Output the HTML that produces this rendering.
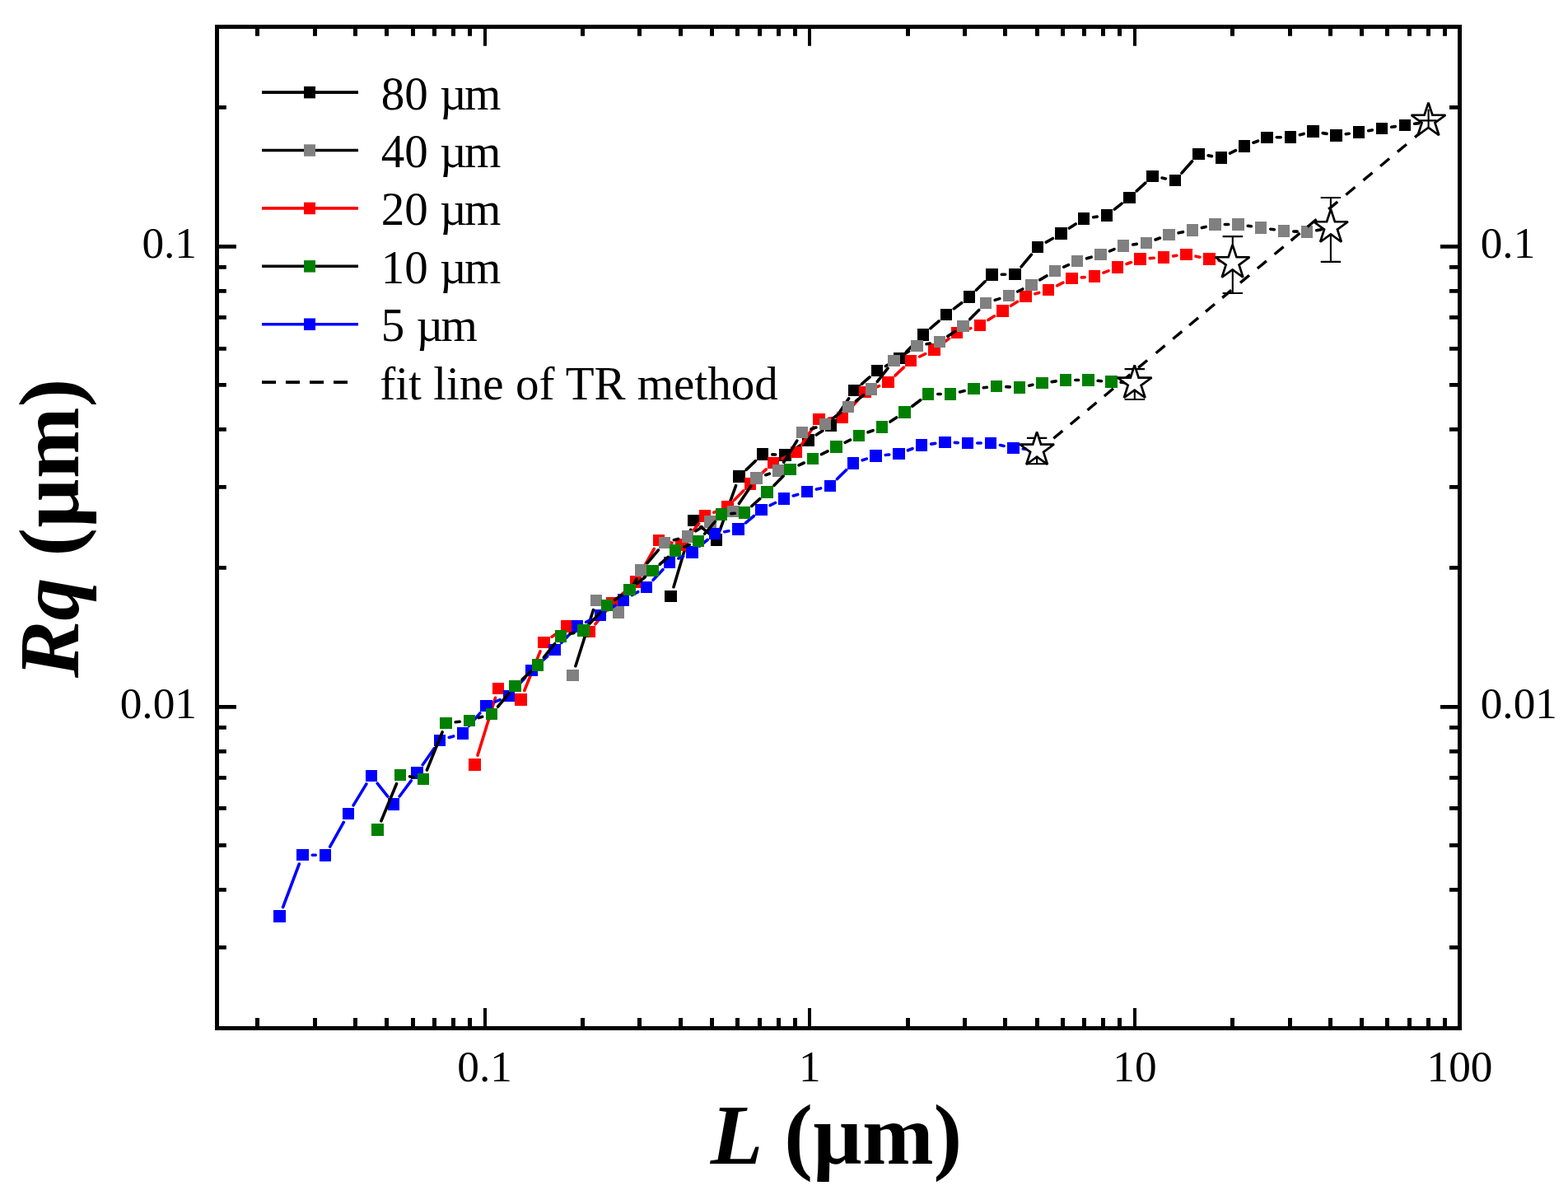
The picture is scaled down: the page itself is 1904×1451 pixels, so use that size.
<!DOCTYPE html><html><head><meta charset="utf-8"><title>Rq vs L</title><style>html,body{margin:0;padding:0;background:#fff;}svg{display:block;}text{font-family:'Liberation Serif','Times New Roman',serif;}</style></head><body>
<svg width="1904" height="1451" viewBox="0 0 1904 1451">
<rect width="1904" height="1451" fill="#fff"/>
<path d="M818.0 712.7L838.6 643.3M851.0 639.6L861.0 647.9M874.0 644.4L893.6 589.6M906.2 570.4L917.4 559.6M937.8 551.9L941.7 552.0M963.4 546.0L971.5 540.9M991.3 528.0L998.9 523.0M1015.4 506.7L1030.7 483.8M1046.3 466.3L1056.0 457.9M1075.4 444.5L1082.1 440.9M1100.8 426.8L1112.7 414.9M1129.9 398.7L1140.1 389.9M1158.3 374.9L1167.7 367.7M1185.4 352.2L1196.1 341.8M1216.3 333.3L1220.7 333.2M1240.1 323.9L1252.4 309.1M1270.2 294.1L1278.4 289.5M1298.4 277.1L1306.2 272.0M1327.7 263.8L1332.3 263.1M1353.3 254.1L1362.2 247.1M1380.2 231.8L1390.8 222.1M1411.1 216.1L1415.4 216.9M1434.9 210.1L1447.6 195.8M1467.1 188.9L1471.4 189.6M1493.5 186.2L1500.5 182.7M1522.0 173.2L1527.5 171.2M1550.3 166.8L1555.2 166.8M1578.4 163.7L1583.2 162.4M1606.2 161.6L1611.0 162.4M1634.3 162.8L1638.3 162.2M1661.7 158.7L1666.3 157.9M1689.7 154.3L1694.3 153.6M1717.7 150.2L1722.8 149.6" stroke="#000" stroke-width="3.6" stroke-linecap="round" fill="none"/>
<path d="M807 717H822V731H807zM835 625H849V639H835zM863 648H877V663H863zM890 571H905V586H890zM919 544H933V559H919zM946 545H961V560H946zM974 527H989V542H974zM1002 509H1016V524H1002zM1030 467H1045V481H1030zM1058 443H1072V457H1058zM1085 428H1100V442H1085zM1114 399H1128V414H1114zM1142 375H1156V389H1142zM1170 353H1184V368H1170zM1197 326H1212V341H1197zM1225 326H1240V340H1225zM1253 293H1267V307H1253zM1281 276H1296V291H1281zM1309 258H1323V273H1309zM1337 254H1351V269H1337zM1364 233H1379V247H1364zM1392 207H1407V221H1392zM1420 212H1434V226H1420zM1448 180H1463V194H1448zM1476 184H1490V199H1476zM1504 170H1518V185H1504zM1531 160H1546V174H1531zM1560 159H1574V174H1560zM1587 152H1602V167H1587zM1615 157H1630V172H1615zM1643 153H1657V168H1643zM1671 149H1685V163H1671zM1699 145H1713V159H1699zM1727 141H1742V155H1727z" fill="#000"/>
<path d="M580.0 917.1L601.5 847.3M615.6 841.2L621.8 844.2M636.8 838.5L656.0 790.9M670.1 773.2L678.6 767.3M699.8 763.2L704.0 764.3M722.9 757.8L736.1 741.6M752.2 724.4L763.3 714.3M777.7 696.0L794.3 666.3M811.6 658.3L816.0 659.2M835.0 652.3L848.6 635.8M866.9 622.2L872.5 619.9M891.7 607.1L902.7 595.9M919.7 579.6L930.3 569.9M949.7 557.0L956.3 554.0M973.7 539.3L987.7 518.7M1006.2 508.2L1011.2 507.8M1030.8 498.1L1042.5 484.9M1061.2 471.4L1067.6 468.6M1087.1 455.9L1097.4 446.1M1116.7 433.0L1123.7 429.6M1143.8 417.5L1152.4 411.1M1173.0 400.4L1178.8 398.6M1199.9 388.6L1207.5 383.8M1227.5 371.3L1235.5 366.3M1256.9 356.8L1261.7 355.4M1283.6 346.8L1290.9 343.2M1313.3 336.9L1317.2 336.6M1340.0 331.2L1346.0 328.8M1368.1 320.5L1373.4 318.5M1396.3 313.6L1401.2 313.3M1424.7 310.9L1428.8 310.3M1452.1 311.2L1456.9 312.2M1480.2 316.4L1484.9 317.2" stroke="#f00" stroke-width="3.6" stroke-linecap="round" fill="none"/>
<path d="M569 921H584V936H569zM598 829H612V843H598zM625 842H640V857H625zM653 773H668V787H653zM681 753H696V768H681zM708 760H723V774H708zM736 725H751V740H736zM765 699H779V714H765zM793 649H807V663H793zM820 654H835V669H820zM849 619H863V634H849zM876 608H891V623H876zM904 580H918V595H904zM932 555H946V569H932zM960 542H974V556H960zM987 502H1002V516H987zM1016 500H1030V514H1016zM1043 469H1058V483H1043zM1071 457H1086V471H1071zM1099 431H1113V445H1099zM1127 417H1142V432H1127zM1155 397H1169V411H1155zM1183 388H1197V402H1183zM1210 370H1225V385H1210zM1238 353H1253V367H1238zM1266 345H1280V359H1266zM1294 331H1309V345H1294zM1322 328H1336V343H1322zM1350 317H1364V332H1350zM1377 307H1392V322H1377zM1406 305H1420V320H1406zM1433 302H1448V316H1433zM1461 307H1476V322H1461zM1489 312H1504V326H1489z" fill="#f00"/>
<path d="M698.9 808.7L720.5 740.5M734.4 734.7L740.6 738.0M756.6 733.1L773.0 702.9M786.2 683.5L799.4 667.8M818.4 655.7L823.6 654.4M844.9 644.8L852.5 639.9M873.2 628.7L879.9 625.8M897.4 611.4L911.8 590.2M929.7 576.7L934.3 575.2M951.7 561.3L967.8 535.1M985.1 521.0L990.9 519.0M1011.4 507.9L1020.6 501.1M1039.4 486.8L1048.6 479.7M1065.3 463.3L1078.1 447.2M1095.3 431.6L1103.6 426.4M1125.1 417.8L1129.4 417.0M1150.8 408.3L1159.7 402.5M1177.8 387.6L1188.7 376.4M1208.2 364.4L1213.8 362.6M1235.7 354.0L1241.8 351.0M1262.6 339.9L1270.9 335.0M1291.8 324.2L1297.4 321.7M1319.6 313.8L1325.1 312.2M1347.5 304.8L1353.0 302.6M1375.7 297.0L1380.3 296.4M1403.1 291.0L1408.4 289.0M1431.1 282.8L1436.4 281.7M1459.4 276.6L1464.1 275.4M1487.3 272.5L1491.7 272.5M1515.2 274.2L1519.3 274.8M1542.7 278.2L1547.3 278.8M1570.8 281.0L1575.2 281.1M1598.7 279.8L1604.3 278.8" stroke="#000" stroke-width="3.6" stroke-linecap="round" fill="none"/>
<path d="M688 813H703V827H688zM717 722H731V736H717zM744 736H758V751H744zM771 685H786V700H771zM800 652H814V666H800zM828 644H842V659H828zM855 626H870V641H855zM883 614H898V628H883zM911 573H926V588H911zM938 564H953V579H938zM967 518H981V532H967zM995 508H1009V522H995zM1023 487H1037V501H1023zM1051 465H1065V480H1051zM1078 431H1093V445H1078zM1106 413H1121V427H1106zM1134 408H1148V422H1134zM1162 389H1177V403H1162zM1190 361H1204V375H1190zM1218 352H1232V366H1218zM1245 339H1260V353H1245zM1274 322H1288V336H1274zM1301 310H1315V324H1301zM1329 302H1344V316H1329zM1357 291H1371V306H1357zM1385 288H1399V302H1385zM1412 278H1427V292H1412zM1441 272H1455V287H1441zM1468 265H1483V280H1468zM1496 265H1511V280H1496zM1524 269H1538V284H1524zM1552 273H1566V288H1552zM1580 274H1594V289H1580zM1609 270H1623V284H1609z" fill="#808080"/>
<path d="M343.6 1101.5L363.3 1049.0M379.3 1038.2L383.2 1038.3M400.7 1028.2L417.3 998.3M429.1 977.9L444.9 951.9M458.2 951.1L470.8 967.2M485.1 967.0L499.3 947.9M513.2 928.7L527.2 908.7M545.3 895.5L550.7 893.9M569.6 881.4L582.9 865.8M601.3 852.1L607.2 849.6M625.8 836.1L637.7 822.7M654.3 806.1L664.7 796.8M681.7 780.5L692.8 769.0M711.6 755.4L718.4 752.1M738.8 740.5L747.2 734.9M767.3 722.7L774.8 718.7M793.1 704.3L805.0 691.6M823.8 678.1L829.7 675.5M849.6 663.2L859.1 655.5M879.8 645.7L884.8 644.7M905.5 634.8L915.4 626.5M935.1 613.7L941.4 610.5M963.3 601.9L968.7 600.4M991.4 594.1L996.6 592.9M1016.4 581.7L1027.6 570.7M1047.2 558.8L1052.3 557.1M1075.3 552.5L1079.7 552.0M1102.5 546.8L1108.0 544.7M1130.7 539.1L1135.8 538.4M1159.3 537.4L1163.2 537.6M1186.8 538.0L1191.2 538.0M1214.5 540.5L1219.0 541.5M1242.3 545.0L1247.3 545.5" stroke="#00f" stroke-width="3.6" stroke-linecap="round" fill="none"/>
<path d="M332 1105H347V1120H332zM360 1031H375V1045H360zM388 1031H402V1046H388zM416 981H430V995H416zM444 935H458V949H444zM471 969H485V984H471zM499 931H514V946H499zM527 892H541V906H527zM555 883H569V898H555zM583 850H598V864H583zM611 838H625V852H611zM638 807H653V821H638zM666 782H681V796H666zM694 753H708V768H694zM722 740H736V754H722zM750 721H764V736H750zM778 706H792V720H778zM806 676H820V690H806zM833 663H848V678H833zM861 641H875V655H861zM889 635H904V650H889zM917 612H932V626H917zM945 598H959V613H945zM973 590H987V604H973zM1001 583H1015V597H1001zM1029 555H1043V570H1029zM1056 546H1071V561H1056zM1084 544H1099V558H1084zM1112 533H1126V548H1112zM1140 530H1155V544H1140zM1168 531H1182V545H1168zM1196 531H1210V545H1196zM1223 537H1238V551H1223zM1252 539H1266V554H1252z" fill="#00f"/>
<path d="M462.9 996.8L481.5 951.7M497.6 942.9L502.4 943.8M518.4 935.0L537.1 888.9M553.2 876.7L558.3 876.2M581.3 871.6L585.7 870.3M604.6 858.0L617.9 842.0M634.1 825.0L644.4 815.4M660.4 798.2L673.6 781.6M692.4 769.5L697.1 768.4M716.6 756.9L728.9 743.6M746.7 728.3L754.8 722.7M773.6 708.5L783.4 700.5M801.3 685.2L811.2 676.3M830.9 664.0L837.1 661.5M855.7 648.1L868.4 633.4M887.9 623.6L892.2 623.3M912.8 614.5L922.7 605.6M939.9 589.4L951.0 578.3M970.1 564.9L976.3 562.0M997.5 551.6L1005.0 547.8M1026.1 537.3L1032.5 534.2M1054.1 524.8L1060.0 522.7M1080.9 512.0L1088.6 507.0M1107.8 493.3L1117.7 485.7M1138.8 478.5L1142.2 478.5M1165.5 475.9L1171.1 474.6M1194.3 470.7L1198.3 470.3M1221.8 469.6L1226.2 469.9M1249.6 468.2L1253.9 467.3M1277.2 463.6L1282.3 462.9M1305.8 461.5L1309.6 461.5M1333.2 462.3L1337.5 462.7M1361.1 464.2L1365.9 464.6" stroke="#000" stroke-width="3.6" stroke-linecap="round" fill="none"/>
<path d="M451 1000H466V1015H451zM479 934H493V948H479zM507 939H521V953H507zM534 871H549V885H534zM563 868H577V882H563zM590 860H604V874H590zM618 826H633V840H618zM646 800H660V815H646zM674 765H688V780H674zM701 758H716V773H701zM730 728H744V742H730zM757 709H772V723H757zM785 686H800V700H785zM813 661H827V676H813zM841 650H855V664H841zM869 617H883V632H869zM897 615H911V630H897zM924 590H939V605H924zM952 563H967V577H952zM980 550H994V564H980zM1008 535H1023V550H1008zM1036 522H1050V536H1036zM1064 511H1078V526H1064zM1091 493H1106V508H1091zM1120 471H1134V486H1120zM1147 471H1161V486H1147zM1175 465H1190V479H1175zM1203 462H1217V476H1203zM1231 463H1245V478H1231zM1258 458H1273V472H1258zM1287 454H1301V469H1287zM1314 454H1329V469H1314zM1342 456H1357V471H1342zM1370 458H1385V473H1370z" fill="#008000"/>
<path d="M1258.81 549.36L1269.79 540.21M1279.31 532.28L1290.29 523.13M1299.81 515.21L1310.79 506.05M1320.51 497.96L1331.49 488.81M1340.91 480.97L1351.89 471.81M1361.51 463.80L1372.49 454.65M1382.11 446.64L1393.09 437.49M1403.61 428.73L1414.59 419.58M1424.31 411.49L1435.29 402.33M1444.11 394.99L1455.09 385.84M1464.01 378.41L1474.99 369.26M1484.21 361.58L1495.19 352.43M1506.01 343.42L1516.99 334.27M1526.91 326.01L1537.89 316.86M1547.61 308.76L1558.59 299.61M1567.61 292.10L1578.59 282.95M1587.61 275.44L1598.59 266.29M1613.21 254.11L1624.19 244.96M1634.41 236.45L1645.39 227.30M1655.51 218.87L1666.49 209.72M1676.11 201.71L1687.09 192.56M1696.96 184.34L1707.94 175.19M1718.01 166.80L1728.99 157.65" stroke="#000" stroke-width="3.4" fill="none"/>
<path d="M1259.1 531.9V563.3M1246.8999999999999 531.9h24.4M1246.8999999999999 563.3h24.4M1377.8 448.1V485.0M1365.6 448.1h24.4M1365.6 485.0h24.4M1496.8 287.1V356.0M1484.6 287.1h24.4M1484.6 356.0h24.4M1615.9 240.0V317.9M1603.7 240.0h24.4M1603.7 317.9h24.4" stroke="#000" stroke-width="2.1" fill="none"/>
<polygon points="1259.10,524.40 1264.02,539.53 1279.93,539.53 1267.06,548.89 1271.97,564.02 1259.10,554.67 1246.23,564.02 1251.14,548.89 1238.27,539.53 1254.18,539.53" fill="#fff" stroke="#000" stroke-width="2.7" stroke-linejoin="miter" stroke-miterlimit="2"/>
<polygon points="1377.70,443.40 1382.62,458.53 1398.53,458.53 1385.66,467.89 1390.57,483.02 1377.70,473.67 1364.83,483.02 1369.74,467.89 1356.87,458.53 1372.78,458.53" fill="#fff" stroke="#000" stroke-width="2.7" stroke-linejoin="miter" stroke-miterlimit="2"/>
<polygon points="1496.60,297.10 1501.52,312.23 1517.43,312.23 1504.56,321.59 1509.47,336.72 1496.60,327.37 1483.73,336.72 1488.64,321.59 1475.77,312.23 1491.68,312.23" fill="#fff" stroke="#000" stroke-width="2.7" stroke-linejoin="miter" stroke-miterlimit="2"/>
<polygon points="1616.00,254.10 1620.92,269.23 1636.83,269.23 1623.96,278.59 1628.87,293.72 1616.00,284.37 1603.13,293.72 1608.04,278.59 1595.17,269.23 1611.08,269.23" fill="#fff" stroke="#000" stroke-width="2.7" stroke-linejoin="miter" stroke-miterlimit="2"/>
<polygon points="1734.50,124.60 1739.42,139.73 1755.33,139.73 1742.46,149.09 1747.37,164.22 1734.50,154.87 1721.63,164.22 1726.54,149.09 1713.67,139.73 1729.58,139.73" fill="#fff" stroke="#000" stroke-width="2.7" stroke-linejoin="miter" stroke-miterlimit="2"/>
<path d="M1734.6 132.6V154.1M1723.7 146.4H1744.6" stroke="#000" stroke-width="2.1" fill="none"/>
<rect x="263.5" y="32.5" width="1509.0" height="1216.0" fill="none" stroke="#000" stroke-width="5"/>
<path d="M312.5 1246V1236M312.5 35V43.8" stroke="#000" stroke-width="5"/>
<path d="M382.5 1246V1236M382.5 35V43.8" stroke="#000" stroke-width="5"/>
<path d="M431.5 1246V1236M431.5 35V43.8" stroke="#000" stroke-width="5"/>
<path d="M469.5 1246V1236M469.5 35V43.8" stroke="#000" stroke-width="5"/>
<path d="M501.5 1246V1236M501.5 35V43.8" stroke="#000" stroke-width="5"/>
<path d="M527.5 1246V1236M527.5 35V43.8" stroke="#000" stroke-width="5"/>
<path d="M550.5 1246V1236M550.5 35V43.8" stroke="#000" stroke-width="5"/>
<path d="M570.5 1246V1236M570.5 35V43.8" stroke="#000" stroke-width="5"/>
<path d="M589.0 1246V1224M589.0 35V55.7" stroke="#000" stroke-width="4"/>
<path d="M707.5 1246V1236M707.5 35V43.8" stroke="#000" stroke-width="5"/>
<path d="M776.5 1246V1236M776.5 35V43.8" stroke="#000" stroke-width="5"/>
<path d="M826.5 1246V1236M826.5 35V43.8" stroke="#000" stroke-width="5"/>
<path d="M864.5 1246V1236M864.5 35V43.8" stroke="#000" stroke-width="5"/>
<path d="M895.5 1246V1236M895.5 35V43.8" stroke="#000" stroke-width="5"/>
<path d="M922.5 1246V1236M922.5 35V43.8" stroke="#000" stroke-width="5"/>
<path d="M945.5 1246V1236M945.5 35V43.8" stroke="#000" stroke-width="5"/>
<path d="M965.5 1246V1236M965.5 35V43.8" stroke="#000" stroke-width="5"/>
<path d="M983.0 1246V1224M983.0 35V55.7" stroke="#000" stroke-width="4"/>
<path d="M1102.5 1246V1236M1102.5 35V43.8" stroke="#000" stroke-width="5"/>
<path d="M1171.5 1246V1236M1171.5 35V43.8" stroke="#000" stroke-width="5"/>
<path d="M1220.5 1246V1236M1220.5 35V43.8" stroke="#000" stroke-width="5"/>
<path d="M1259.5 1246V1236M1259.5 35V43.8" stroke="#000" stroke-width="5"/>
<path d="M1290.5 1246V1236M1290.5 35V43.8" stroke="#000" stroke-width="5"/>
<path d="M1316.5 1246V1236M1316.5 35V43.8" stroke="#000" stroke-width="5"/>
<path d="M1339.5 1246V1236M1339.5 35V43.8" stroke="#000" stroke-width="5"/>
<path d="M1359.5 1246V1236M1359.5 35V43.8" stroke="#000" stroke-width="5"/>
<path d="M1378.0 1246V1224M1378.0 35V55.7" stroke="#000" stroke-width="4"/>
<path d="M1496.5 1246V1236M1496.5 35V43.8" stroke="#000" stroke-width="5"/>
<path d="M1566.5 1246V1236M1566.5 35V43.8" stroke="#000" stroke-width="5"/>
<path d="M1615.5 1246V1236M1615.5 35V43.8" stroke="#000" stroke-width="5"/>
<path d="M1653.5 1246V1236M1653.5 35V43.8" stroke="#000" stroke-width="5"/>
<path d="M1684.5 1246V1236M1684.5 35V43.8" stroke="#000" stroke-width="5"/>
<path d="M1711.5 1246V1236M1711.5 35V43.8" stroke="#000" stroke-width="5"/>
<path d="M1734.5 1246V1236M1734.5 35V43.8" stroke="#000" stroke-width="5"/>
<path d="M1754.5 1246V1236M1754.5 35V43.8" stroke="#000" stroke-width="5"/>
<path d="M266 1150.4H274.8M1770 1150.4H1760" stroke="#000" stroke-width="4.8"/>
<path d="M266 1080.4H274.8M1770 1080.4H1760" stroke="#000" stroke-width="4.8"/>
<path d="M266 1026.4H274.8M1770 1026.4H1760" stroke="#000" stroke-width="4.8"/>
<path d="M266 981.4H274.8M1770 981.4H1760" stroke="#000" stroke-width="4.8"/>
<path d="M266 944.4H274.8M1770 944.4H1760" stroke="#000" stroke-width="4.8"/>
<path d="M266 912.4H274.8M1770 912.4H1760" stroke="#000" stroke-width="4.8"/>
<path d="M266 883.4H274.8M1770 883.4H1760" stroke="#000" stroke-width="4.8"/>
<path d="M266 858.4H286.9M1770 858.4H1749" stroke="#000" stroke-width="4.8"/>
<path d="M266 689.4H274.8M1770 689.4H1760" stroke="#000" stroke-width="4.8"/>
<path d="M266 591.4H274.8M1770 591.4H1760" stroke="#000" stroke-width="4.8"/>
<path d="M266 521.4H274.8M1770 521.4H1760" stroke="#000" stroke-width="4.8"/>
<path d="M266 467.4H274.8M1770 467.4H1760" stroke="#000" stroke-width="4.8"/>
<path d="M266 423.4H274.8M1770 423.4H1760" stroke="#000" stroke-width="4.8"/>
<path d="M266 385.4H274.8M1770 385.4H1760" stroke="#000" stroke-width="4.8"/>
<path d="M266 353.4H274.8M1770 353.4H1760" stroke="#000" stroke-width="4.8"/>
<path d="M266 324.4H274.8M1770 324.4H1760" stroke="#000" stroke-width="4.8"/>
<path d="M266 299.4H286.9M1770 299.4H1749" stroke="#000" stroke-width="4.8"/>
<path d="M266 130.4H274.8M1770 130.4H1760" stroke="#000" stroke-width="4.8"/>
<text x="239" y="313.1" font-size="53.3" text-anchor="end">0.1</text>
<text x="1797.7" y="313.1" font-size="53.3">0.1</text>
<text x="239" y="871.9" font-size="53.3" text-anchor="end">0.01</text>
<text x="1797.7" y="871.9" font-size="53.3">0.01</text>
<text x="588.6" y="1313.3" font-size="53.3" text-anchor="middle">0.1</text>
<text x="983.3" y="1313.3" font-size="53.3" text-anchor="middle">1</text>
<text x="1377.9" y="1313.3" font-size="53.3" text-anchor="middle">10</text>
<text x="1772.5" y="1313.3" font-size="53.3" text-anchor="middle">100</text>
<text x="862.8" y="1412.5" font-size="104" font-weight="bold"><tspan font-style="italic">L</tspan> (µm)</text>
<text transform="translate(95.1 822.9) rotate(-90)" font-size="104" font-weight="bold"><tspan font-style="italic">Rq</tspan> (µm)</text>
<path d="M318 112.1H435" stroke="#000" stroke-width="3.6"/>
<rect x="369.0" y="104.9" width="14" height="14.5" fill="#000"/>
<text x="462.7" y="132.5" font-size="57">80 µ<tspan dx="-2.9">m</tspan></text>
<path d="M318 182.5H435" stroke="#000" stroke-width="3.6"/>
<rect x="369.0" y="175.3" width="14" height="14.5" fill="#808080"/>
<text x="462.7" y="202.9" font-size="57">40 µ<tspan dx="-2.9">m</tspan></text>
<path d="M318 252.9H435" stroke="#f00" stroke-width="3.6"/>
<rect x="369.0" y="245.7" width="14" height="14.5" fill="#f00"/>
<text x="462.7" y="273.3" font-size="57">20 µ<tspan dx="-2.9">m</tspan></text>
<path d="M318 323.3H435" stroke="#000" stroke-width="3.6"/>
<rect x="369.0" y="316.1" width="14" height="14.5" fill="#008000"/>
<text x="462.7" y="343.7" font-size="57">10 µ<tspan dx="-2.9">m</tspan></text>
<path d="M318 393.7H435" stroke="#00f" stroke-width="3.6"/>
<rect x="369.0" y="386.5" width="14" height="14.5" fill="#00f"/>
<text x="462.7" y="414.1" font-size="57">5 µ<tspan dx="-2.9">m</tspan></text>
<path d="M318 464.1H422" stroke="#000" stroke-width="3.9" stroke-dasharray="17 12"/>
<text x="461.3" y="484.5" font-size="57">fit line of TR method</text>
</svg></body></html>
